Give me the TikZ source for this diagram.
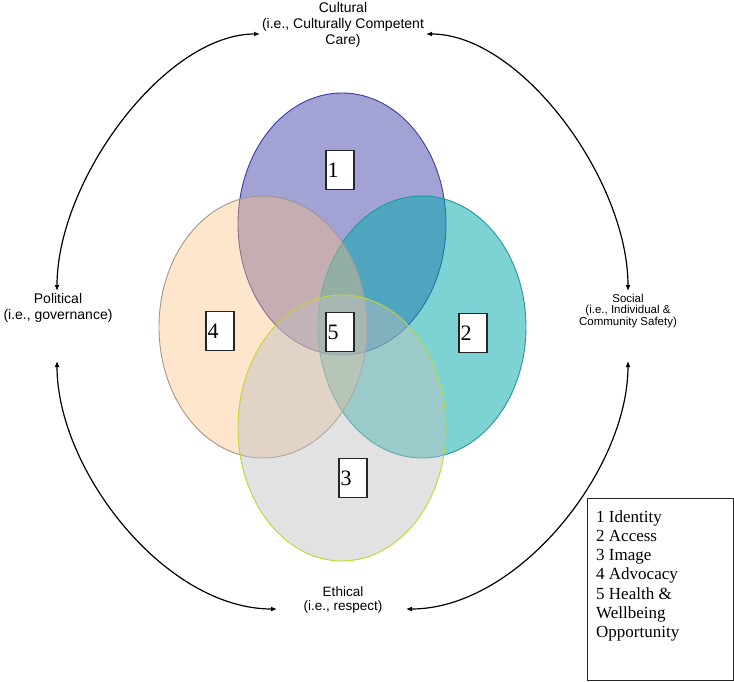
\documentclass[tikz,border=0pt]{standalone}
\usepackage{fontspec}
\setmainfont{Liberation Serif}
\newfontfamily\arialf{Liberation Sans}
\usetikzlibrary{arrows.meta}
\definecolor{purpbase}{RGB}{48,48,160}
\definecolor{purpline}{RGB}{60,60,160}
\definecolor{tealbase}{RGB}{0,169,171}
\definecolor{tealline}{RGB}{26,155,158}
\definecolor{peachbase}{RGB}{251,192,128}
\definecolor{peachline}{RGB}{160,150,145}
\definecolor{graybase}{RGB}{191,191,191}
\definecolor{grayline}{RGB}{195,212,45}
\tikzset{
  numbox/.style={draw=black!85, line width=1.2pt, fill=white, minimum width=28pt,
     minimum height=39pt, text width=25pt, inner xsep=1.5pt, align=left,
     font=\fontsize{22}{24}\selectfont},
  sidelabel/.style={align=center, inner sep=0pt},
  link/.style={line width=1.2pt, {Latex[length=6pt,width=5pt]}-{Latex[length=6pt,width=5pt]}},
  ring/.style={line width=0.9pt}
}
\begin{document}
\begin{tikzpicture}[x=1pt,y=-1pt]
\useasboundingbox (0,0) rectangle (734,682);
% ellipses
\path[ring, draw=purpline, fill=purpbase, fill opacity=0.45] (342,224) ellipse [x radius=104, y radius=131];
\path[ring, draw=tealline, fill=tealbase, fill opacity=0.51] (422,327) ellipse [x radius=104, y radius=131];
\path[ring, draw=peachline, fill=peachbase, fill opacity=0.40] (263,327) ellipse [x radius=104, y radius=131];
\path[ring, draw=grayline, fill=graybase, fill opacity=0.45] (342,428) ellipse [x radius=104, y radius=133];
% number boxes
\node[numbox] (n1) at (340,170) {1};
\node[numbox] (n2) at (473,333) {2};
\node[numbox] (n3) at (353,478) {3};
\node[numbox] (n4) at (220,331) {4};
\node[numbox] (n5) at (340,332) {5};
% labels
\node[sidelabel, font=\arialf\fontsize{14}{16}\selectfont] (cultural) at (343,25) {Cultural\\(i.e., Culturally Competent\\Care)};
\node[sidelabel, font=\arialf\fontsize{14}{15.5}\selectfont] (political) at (58,308) {Political\\(i.e., governance)};
\node[sidelabel, font=\arialf\fontsize{11.5}{10.5}\selectfont] (social) at (628,311) {Social\\(i.e., Individual \&\\Community Safety)};
\node[sidelabel, font=\arialf\fontsize{13.5}{14}\selectfont] (ethical) at (343,600) {Ethical\\(i.e., respect)};
% arrow end points
\coordinate (cl) at (260,34);
\coordinate (cr) at (426,34);
\coordinate (pt) at (57,291);
\coordinate (pb) at (57,361);
\coordinate (st) at (628,291);
\coordinate (sb) at (628,361);
\coordinate (el) at (277,609);
\coordinate (er) at (406,609);
\draw[link] (pt) .. controls (57,180) and (165,34) .. (cl);
\draw[link] (cr) .. controls (521,34) and (628,180) .. (st);
\draw[link] (pb) .. controls (57,470) and (165,609) .. (el);
\draw[link] (er) .. controls (518,609) and (628,470) .. (sb);
% legend
\node[draw=black!85, line width=1.2pt, minimum width=146pt, minimum height=182pt, anchor=north west] (legend) at (587,498) {};
\node[anchor=north west, inner sep=0pt, align=left, font=\fontsize{17}{19.3}\selectfont] (legendtext) at (596,510) {1 Identity\\2 Access\\3 Image\\4 Advocacy\\5 Health \&\\Wellbeing\\Opportunity};
\end{tikzpicture}
\end{document}
